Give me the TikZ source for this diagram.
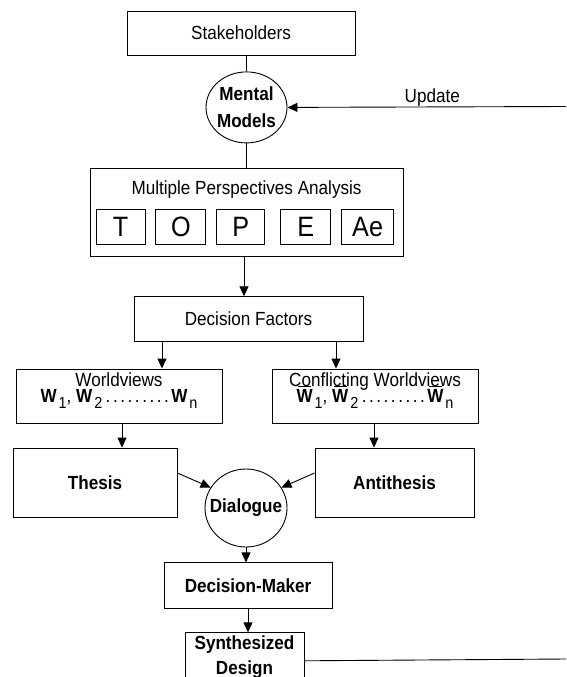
\documentclass[tikz,border=0pt]{standalone}
\usepackage{fontspec}
\setmainfont{Liberation Sans}[FakeStretch=0.9]
\usetikzlibrary{shapes.geometric, arrows.meta, positioning}

\newcommand{\regtext}{\fontsize{19}{22}\selectfont}
\newcommand{\twolines}[3]{\vtop{\baselineskip=#1\lineskiplimit=-100pt\halign{\hfil##\hfil\cr#2\cr#3\cr}}}
\newcommand{\wsub}[1]{\kern2pt\raisebox{-6pt}{\fontsize{16}{16}\selectfont#1}}
\newcommand{\wdots}{\kern2pt\hbox to 66pt{\cleaders\hbox to 7.3pt{\hss.\hss}\hfill}\kern1pt}
\newcommand{\wbar}{\ooalign{\textbf{W}\cr\hidewidth\rule[15pt]{13pt}{0.8pt}\hidewidth\cr}}

\begin{document}
\begin{tikzpicture}[x=1pt,y=-1pt,line width=0.9pt,
 every node/.style={font=\regtext,align=center},
 box/.style={rectangle,draw,inner sep=0pt},
 bbox/.style={box,font=\bfseries\regtext},
 lbox/.style={box,minimum height=35pt,font=\fontsize{28}{28}\selectfont},
 bub/.style={ellipse,draw,inner xsep=-15pt,inner ysep=0pt,font=\bfseries\fontsize{19}{27}\selectfont},
 arr/.style={-{Triangle[length=10pt,width=9pt]}}]
\clip (0,0) rectangle (566,677);
\node[box,minimum width=228pt,minimum height=44pt] (stake) at (241,33) {Stakeholders};
\node[bub,minimum width=81pt,minimum height=71pt,below=16pt of stake,xshift=5.5pt] (mm) {Mental\\Models};
\node[box,minimum width=313pt,text height=26pt,text depth=62pt,below=25pt of mm] (mpa) {Multiple Perspectives Analysis};
\node[lbox,minimum width=49pt,above right=12pt and 6pt of mpa.south west] (lt) {T};
\node[lbox,minimum width=50pt,right=10pt of lt] (lo) {O};
\node[lbox,minimum width=48pt,right=10pt of lo] (lp) {P};
\node[lbox,minimum width=50pt,right=15pt of lp] (le) {E};
\node[lbox,minimum width=52pt,right=10pt of le] (lae) {Ae};
\node[box,minimum width=229pt,minimum height=45pt,below=39pt of mpa,xshift=2pt] (df) {Decision Factors};
\node[box,minimum width=206pt,text height=17pt,text depth=37pt] (wv) at (119,396)
 {\twolines{16pt}{Worldviews}{\textbf{W}\wsub{1}, \textbf{W}\wsub{2}\wdots\textbf{W}\wsub{n}}};
\node[box,minimum width=206pt,text height=17pt,text depth=37pt] (cwv) at (375,396)
 {\twolines{16pt}{Conflicting Worldviews}{\wbar\wsub{1}, \wbar\wsub{2}\wdots\wbar\wsub{n}}};
\node[bbox,minimum width=164pt,minimum height=69pt] (thesis) at (95,482.5) {Thesis};
\node[bbox,minimum width=159pt,minimum height=69pt] (anti) at (394.5,482.5) {Antithesis};
\node[bub,minimum width=82pt,minimum height=78pt] (dia) at (246,508) {Dialogue};
\node[bbox,minimum width=168pt,minimum height=46pt,below=15pt of dia,xshift=2pt] (dm) {Decision-Maker};
\node[box,font=\bfseries\regtext,minimum width=119pt,text height=17pt,text depth=39pt,below=23pt of dm,xshift=-3.5pt] (sd)
 {\twolines{25pt}{Synthesized}{Design}};
\coordinate (upd) at (566,106.5);
\coordinate (sdout) at (566,659);
% connectors
\draw (mm.north |- stake.south) -- (mm.north);
\draw (mm.south) -- (mm.south |- mpa.north);
\draw[arr] (upd) -- node[above,pos=0.48,inner sep=0pt]{Update} (mm.east);
\draw[arr] (244,0 |- mpa.south) -- (244,0 |- df.north);
\draw[arr] (162,0 |- df.south) -- (162,0 |- wv.north);
\draw[arr] (336,0 |- df.south) -- (336,0 |- cwv.north);
\draw[arr] (122,0 |- wv.south) -- (122,0 |- thesis.north);
\draw[arr] (374,0 |- cwv.south) -- (374,0 |- anti.north);
\draw[arr] ([yshift=9.5pt]thesis.east) -- (dia.150);
\draw[arr] ([yshift=9.5pt]anti.west) -- (dia.30);
\draw[arr] (dia.south) -- (dia.south |- dm.north);
\draw[arr] (dm.south) -- (dm.south |- sd.north);
\draw (sd.east) -- (sdout);
\end{tikzpicture}
\end{document}
